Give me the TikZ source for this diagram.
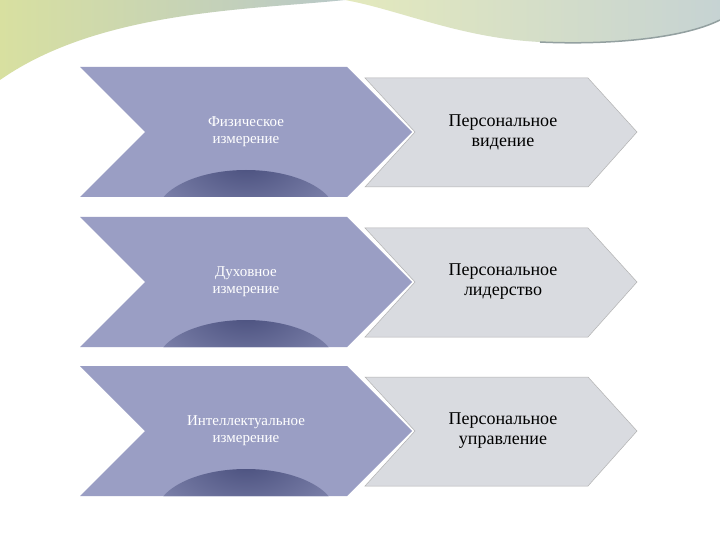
\documentclass[tikz,border=0pt]{standalone}
\usepackage{fontspec}
\setmainfont{Liberation Serif}
\begin{document}
\begin{tikzpicture}[x=1pt,y=-1pt,
  leftchev/.style={fill=lav, path picture={\fill[inner color=dkblue,outer color=lav] ([yshift=-18pt]path picture bounding box.south) ellipse (90pt and 45pt);}},
  rightchev/.style={fill=lgray,draw=gray!60,line width=0.5pt},
  ltxt/.style={text=white,font=\fontsize{15}{17}\selectfont,align=center},
  rtxt/.style={text=black,font=\fontsize{18}{20}\selectfont,align=center}]
\definecolor{lav}{HTML}{9A9EC4}
\definecolor{dkblue}{HTML}{4A507E}
\definecolor{lgray}{HTML}{D9DBE0}
\definecolor{wgreen}{HTML}{D8E0A0}
\definecolor{wgray}{HTML}{B8C8C8}
\useasboundingbox (0,0) rectangle (720,540);
\fill[white] (0,0) rectangle (720,540);
% top waves
\shade[left color=wgreen,right color=wgray] (0,0) -- (345,0) .. controls (250,10) and (100,10) .. (0,80) -- cycle;
\shade[left color=wgreen!70!white,right color=wgray!80!white] (345,0) -- (720,0) -- (720,20) .. controls (680,40) and (600,45) .. (540,42) .. controls (460,38) and (400,10) .. (345,0) -- cycle;
\draw[wgray!80!black,line width=1.5pt] (720,20) .. controls (680,40) and (600,45) .. (540,42);
\foreach \i/\y/\a/\b in {1/67/Физическое/измерение,2/217/Духовное/измерение,3/366/Интеллектуальное/измерение}{
  \path[leftchev] (80,\y) -- (347,\y) -- (412,\y+65) -- (347,\y+130) -- (80,\y+130) -- (145,\y+65) -- cycle;
  \node[ltxt] (l\i) at (246,\y+65) {\a\\\b};
}
\foreach \i/\y/\b in {1/78/видение,2/228/лидерство,3/377/управление}{
  \path[rightchev] (365,\y) -- (588,\y) -- (637,\y+54) -- (588,\y+109) -- (365,\y+109) -- (415,\y+54) -- cycle;
  \node[rtxt] (r\i) at (503,\y+54) {Персональное\\\b};
}
\end{tikzpicture}
\end{document}
